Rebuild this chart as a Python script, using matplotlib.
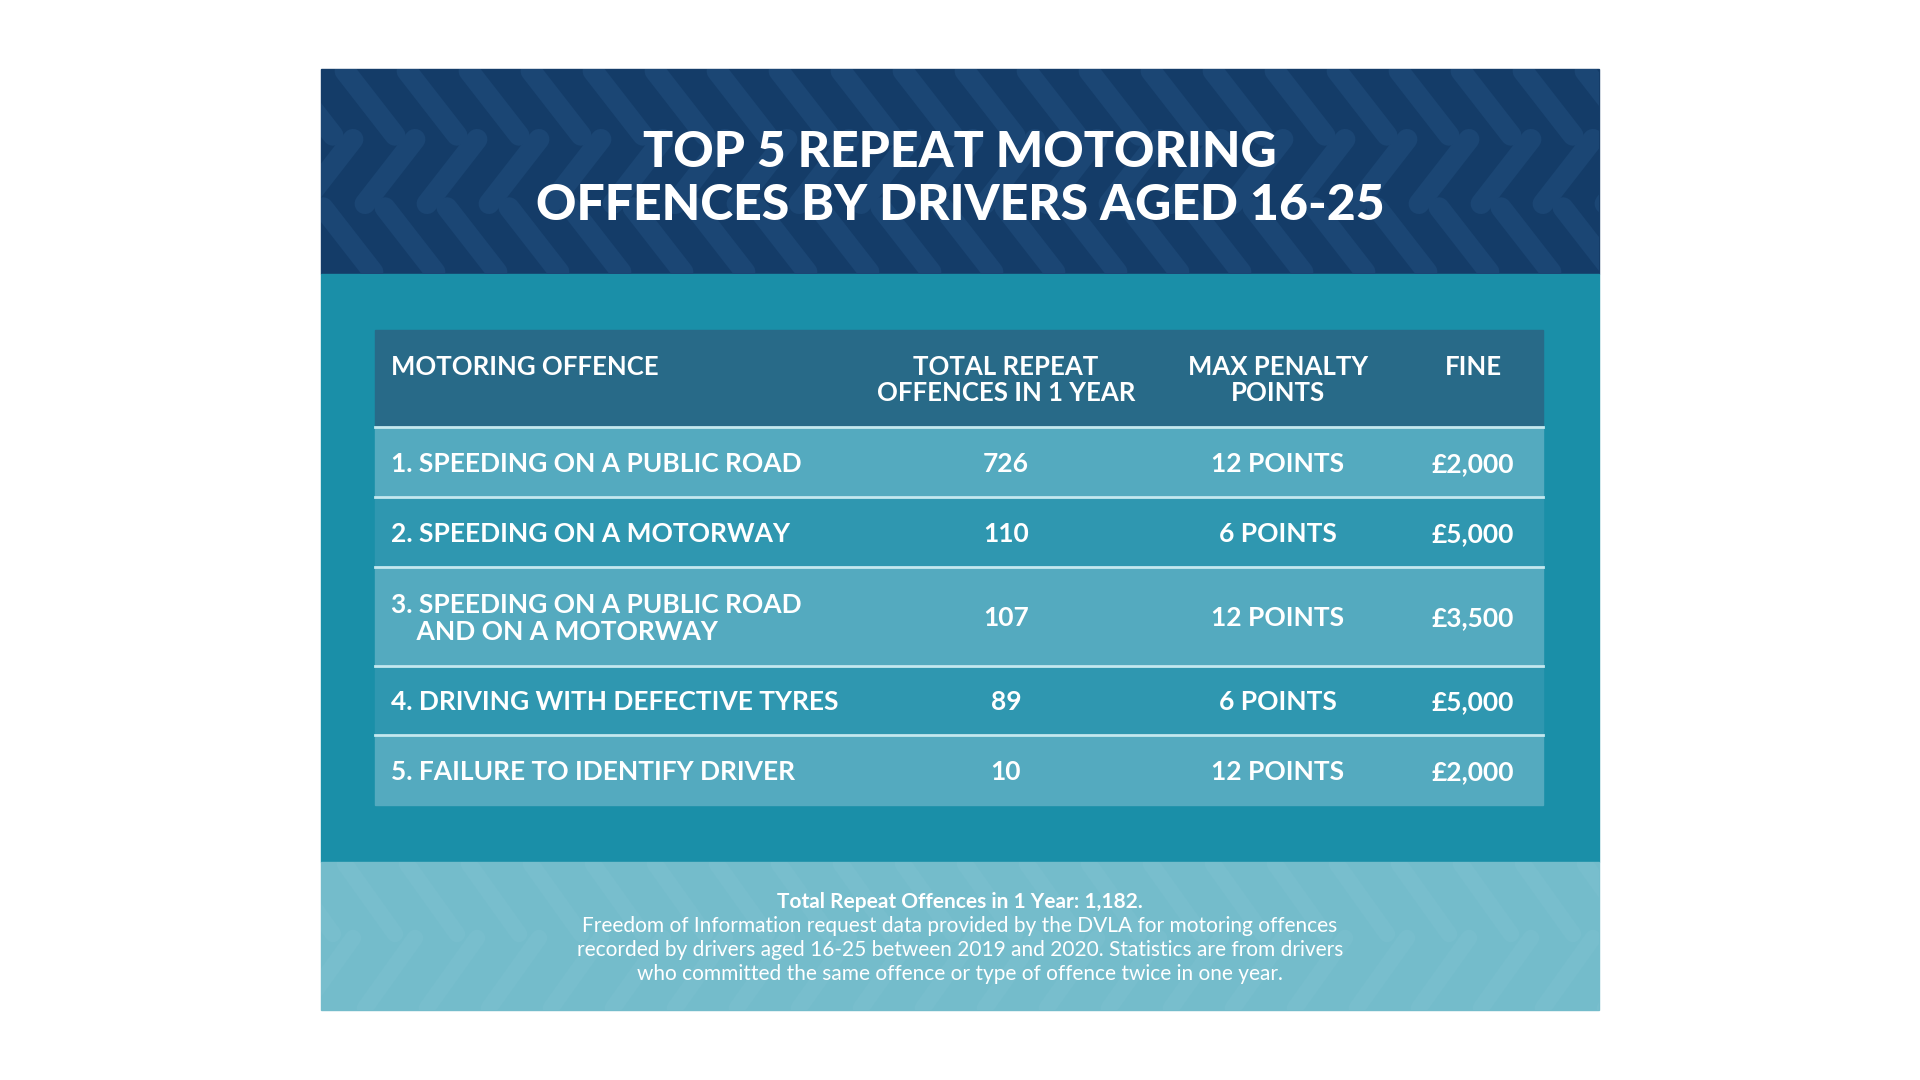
import matplotlib.pyplot as plt
from matplotlib.patches import Rectangle

# table content
columns = ["MOTORING OFFENCE", "TOTAL REPEAT\nOFFENCES IN 1 YEAR", "MAX PENALTY\nPOINTS", "FINE"]
offences = [
    "1. SPEEDING ON A PUBLIC ROAD",
    "2. SPEEDING ON A MOTORWAY",
    "3. SPEEDING ON A PUBLIC ROAD\n    AND ON A MOTORWAY",
    "4. DRIVING WITH DEFECTIVE TYRES",
    "5. FAILURE TO IDENTIFY DRIVER",
]
repeat_offences = [726, 110, 107, 89, 10]
penalty_points = [12, 6, 12, 6, 12]
fines = [2000, 5000, 3500, 5000, 2000]

title = "TOP 5 REPEAT MOTORING\nOFFENCES BY DRIVERS AGED 16-25"
footer_bold = "Total Repeat Offences in 1 Year: 1,182."
footer_note = ("Freedom of Information request data provided by the DVLA for motoring offences\n"
               "recorded by drivers aged 16-25 between 2019 and 2020. Statistics are from drivers\n"
               "who committed the same offence or type of offence twice in one year.")

NAVY = "#143c68"
TREAD = "#1b4674"
TEAL = "#1a8fa8"
HEAD = "#286a88"
ROW_LIGHT = "#54aabf"
ROW_DARK = "#2f97b0"
LINE = "#c4e8ef"
FOOT = "#74bccb"
FOOT_TREAD = "#78becd"

plt.rcParams['font.family'] = ['Lato', 'DejaVu Sans']

fig = plt.figure(figsize=(19.2, 10.8), dpi=100)
ax = fig.add_axes([0, 0, 1, 1])
ax.set_xlim(0, 1920)
ax.set_ylim(1080, 0)
ax.axis('off')

# card
L, R = 321, 1599
ax.add_patch(Rectangle((L, 69), R - L, 205, color=NAVY, zorder=1))
ax.add_patch(Rectangle((L, 274), R - L, 588, color=TEAL, zorder=1))
ax.add_patch(Rectangle((L, 862), R - L, 148, color=FOOT, zorder=1))


def tread(top, height, bands, color, lw, step):
    clip = Rectangle((L, top), R - L, height, transform=ax.transData)
    bh = height / bands
    for b in range(bands):
        y0 = top + b * bh - 8
        y1 = top + (b + 1) * bh + 8
        x = L - 100 + b * 20
        while x < R + 100:
            xs = [x, x + 50] if b % 2 == 0 else [x + 50, x]
            ln, = ax.plot(xs, [y0 + 10, y1 - 10], color=color, lw=lw,
                          solid_capstyle='round', zorder=2)
            ln.set_clip_path(clip)
            x += step


# tyre tread pattern in header and footer
tread(69, 205, 3, TREAD, 15, 62)
tread(862, 148, 2, FOOT_TREAD, 12, 62)

ax.text(960, 179, title, ha='center', va='center', color='white',
        fontsize=36, fontweight='black', linespacing=1.22, zorder=5)

# table
tx0, tx1 = 375, 1543
col_x = [391, 1006, 1278, 1473]
header_top, header_h = 330, 97
row_h = [70, 70, 99, 69, 70]

ax.add_patch(Rectangle((tx0, header_top), tx1 - tx0, header_h, color=HEAD, zorder=3))
for i, c in enumerate(columns):
    ax.text(col_x[i], header_top + 25, c, ha='left' if i == 0 else 'center', va='top',
            color='white', fontsize=18.5, fontweight='bold', linespacing=1.1, zorder=5)

y = header_top + header_h
for i in range(len(offences)):
    h = row_h[i]
    ax.add_patch(Rectangle((tx0, y), tx1 - tx0, h,
                           color=ROW_LIGHT if i % 2 == 0 else ROW_DARK, zorder=3))
    ax.plot([tx0, tx1], [y, y], color=LINE, lw=2, zorder=4)
    cy = y + h / 2 + 2
    vals = [offences[i], f"{repeat_offences[i]:,}", f"{penalty_points[i]} POINTS", f"£{fines[i]:,}"]
    for j, v in enumerate(vals):
        ax.text(col_x[j], cy, v, ha='left' if j == 0 else 'center', va='center',
                color='white', fontsize=19, fontweight='bold', linespacing=1.15, zorder=5)
    y += h

# footer
ax.text(960, 902, footer_bold, ha='center', va='center', color='white',
        fontsize=15, fontweight='bold', zorder=5)
ax.text(960, 950, footer_note, ha='center', va='center', color='white',
        fontsize=15, linespacing=1.24, zorder=5)

fig.savefig("out.png", dpi=100, facecolor='white')
